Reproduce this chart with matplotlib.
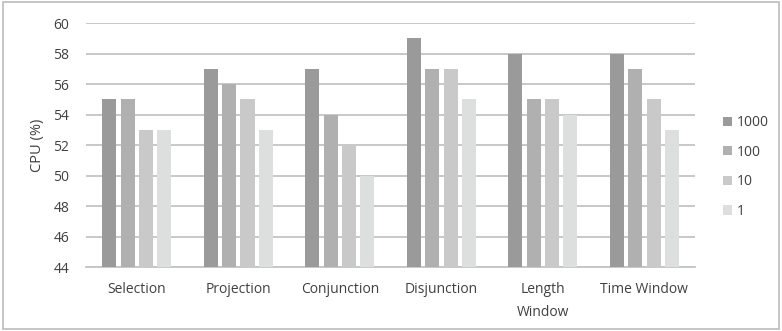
import numpy as np
import matplotlib.pyplot as plt

plt.rcParams['font.family'] = ['Open Sans', 'DejaVu Sans']

categories = ["Selection", "Projection", "Conjunction", "Disjunction", "Length\nWindow", "Time Window"]
series_names = ["1000", "100", "10", "1"]
cpu_1000 = [55, 57, 57, 59, 58, 58]
cpu_100 = [55, 56, 54, 57, 55, 57]
cpu_10 = [53, 55, 52, 57, 55, 55]
cpu_1 = [53, 53, 50, 55, 54, 53]

colors = ["#999a99", "#b0b0b0", "#c8c9c8", "#dddfde"]
grid_color = "#c4c4c4"
text_color = "#404040"

fig = plt.figure(figsize=(7.82, 3.31), dpi=100)
ax = fig.add_axes([0.110, 0.193, 0.779, 0.737])

x = np.arange(len(categories))
width = 0.138
step = 0.181
all_series = [cpu_1000, cpu_100, cpu_10, cpu_1]
for i, (vals, name) in enumerate(zip(all_series, series_names)):
    ax.bar(x + (i - 1.5) * step, vals, width, color=colors[i], label=name, zorder=3)

ax.set_xlim(-0.5, len(categories) - 0.5)
ax.set_ylim(44, 60)
ax.set_yticks(np.arange(44, 61, 2))
ax.yaxis.grid(True, color=grid_color, linewidth=1.3, zorder=0)
ax.set_xticks(x)
ax.set_xticklabels(categories, fontsize=10, color=text_color, linespacing=1.7, va='top')
ax.tick_params(axis='x', length=0, pad=11)
ax.tick_params(axis='y', length=0, pad=12, labelsize=10, labelcolor=text_color)
for side in ['top', 'right', 'left']:
    ax.spines[side].set_visible(False)
ax.spines['bottom'].set_color(grid_color)
ax.spines['bottom'].set_linewidth(1.3)
ax.set_ylabel("CPU (%)", fontsize=10.5, color=text_color, labelpad=6)

leg = fig.legend(loc='center left', bbox_to_anchor=(723 / 782, 1 - 167 / 331), frameon=False,
                 fontsize=10, handlelength=0.65, handleheight=0.65, labelspacing=1.05,
                 handletextpad=0.35, borderpad=0, borderaxespad=0)
for t in leg.get_texts():
    t.set_color(text_color)

# outer border
fig.patches.append(plt.Rectangle((0.004, 0.006), 0.992, 0.988, transform=fig.transFigure,
                                 fill=False, edgecolor="#bcbcbc", linewidth=1.2))

fig.savefig("out.png", dpi=100)
